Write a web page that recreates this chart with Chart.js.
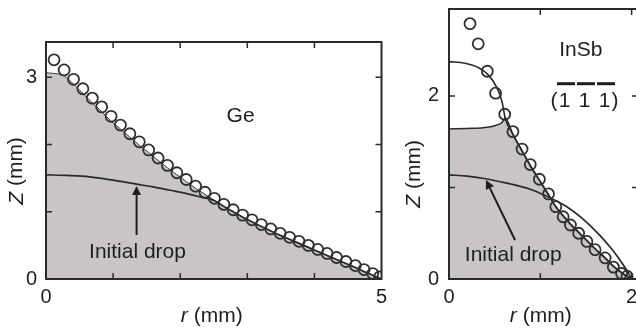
<!DOCTYPE html>
<html><head><meta charset="utf-8">
<script src="https://cdn.jsdelivr.net/npm/chart.js@4.4.0/dist/chart.umd.min.js"></script>
<style>
html,body{margin:0;padding:0;background:#fff;overflow:hidden;width:636px;height:328px;}
#wrap{position:relative;width:636px;height:328px;overflow:hidden;background:#fff;}
canvas{position:absolute;top:0;}
#c1{left:0px;}
#c2{left:390px;}
</style></head><body>
<div id="wrap"><canvas id="c1" width="400" height="328"></canvas><canvas id="c2" width="260" height="328"></canvas></div>
<script>
// ---------- Ge panel data ----------
const geCircleR = [0.12,0.27,0.41,0.55,0.69,0.83,0.97,1.11,1.25,1.39,1.53,1.67,1.81,1.95,2.09,2.23,2.37,2.51,2.65,2.79,2.93,3.07,3.21,3.35,3.49,3.63,3.77,3.91,4.05,4.19,4.33,4.47,4.61,4.74,4.87,4.97];
const geCircleZ = [3.26,3.11,2.97,2.83,2.69,2.56,2.42,2.29,2.16,2.04,1.92,1.80,1.69,1.58,1.48,1.38,1.29,1.20,1.11,1.03,0.95,0.88,0.81,0.745,0.68,0.62,0.56,0.50,0.44,0.38,0.32,0.26,0.20,0.14,0.08,0.03];
const geFinalR = [0,0.27,0.41,0.55,0.69,0.83,0.97,1.11,1.25,1.39,1.53,1.67,1.81,1.95,2.09,2.23,2.37,2.51,2.65,2.79,2.93,3.07,3.21,3.35,3.49,3.63,3.77,3.91,4.05,4.19,4.33,4.47,4.61,4.74,4.87,5.0];
const geFinalZ = [3.07,3.02,2.90,2.76,2.62,2.49,2.35,2.23,2.11,1.99,1.88,1.765,1.655,1.55,1.45,1.35,1.26,1.17,1.08,1.00,0.92,0.85,0.78,0.715,0.65,0.59,0.53,0.47,0.41,0.35,0.29,0.23,0.17,0.11,0.055,0];
const geInitR = [0,0.3,0.65,1.0,1.35,1.6,1.85,2.05,2.3,2.51,2.65,2.79,2.93,3.07,3.21,3.35,3.49,3.63,3.77,3.91,4.05,4.19,4.33,4.47,4.61,4.74,4.87,5.0];
const geInitZ = [1.55,1.54,1.52,1.47,1.41,1.37,1.32,1.28,1.22,1.165,1.08,1.00,0.92,0.85,0.78,0.715,0.65,0.59,0.53,0.47,0.41,0.35,0.29,0.23,0.17,0.11,0.055,0];
const geXTicks = [0,1,2,3,4,5];
const geYTicks = [0,1,2,3];
const geXLabeled = [0,5];
const geYLabeled = [0,3];

// ---------- InSb panel data ----------
const insbCircleR = [0.23,0.32,0.42,0.51,0.61,0.70,0.80,0.89,0.99,1.09,1.17,1.25,1.33,1.42,1.51,1.60,1.71,1.80,1.89,1.95];
const insbCircleZ = [2.79,2.57,2.27,2.03,1.80,1.61,1.42,1.25,1.09,0.93,0.79,0.68,0.59,0.50,0.41,0.32,0.23,0.13,0.06,0.03];
const insbShapeR = [0,0.175,0.32,0.43,0.52,0.58,0.615,0.70,0.80,0.89,0.99,1.09,1.17,1.25,1.33,1.42,1.51,1.60,1.71,1.80,1.89,1.95,2.0];
const insbShapeZ = [2.375,2.357,2.31,2.23,2.10,1.94,1.76,1.58,1.40,1.24,1.08,0.92,0.79,0.69,0.60,0.51,0.42,0.33,0.23,0.14,0.07,0.03,0];
const insbMeltR = [0,0.2,0.35,0.50,0.58,0.615,0.70,0.80,0.89,0.99,1.09,1.17,1.25,1.33,1.42,1.51,1.60,1.71,1.80,1.89,1.95,2.0];
const insbMeltZ = [1.64,1.645,1.65,1.675,1.71,1.76,1.58,1.40,1.24,1.08,0.92,0.79,0.69,0.60,0.51,0.42,0.33,0.23,0.14,0.07,0.03,0];
const insbInitR = [0,0.2,0.4,0.56,0.75,0.92,1.1,1.29,1.45,1.65,1.78,1.87,1.95,2.0];
const insbInitZ = [1.137,1.125,1.095,1.063,1.02,0.97,0.89,0.79,0.67,0.48,0.33,0.21,0.09,0];
const insbXTicks = [0,1,2];
const insbYTicks = [0,1,2];
const insbXLabeled = [0,2];
const insbYLabeled = [0,2];

// ---------- styling ----------
const FONT = '"Liberation Sans", Arial, Helvetica, sans-serif';
const INK = '#1e1e1e';
const LINE = '#2a2a2a';
const FILL = '#c9c5c7';
const TXT = 21;
Chart.defaults.font.family = FONT;

function pts(rs, zs){ return rs.map((r,i)=>({x:r, y:zs[i]})); }

function drawMixed(ctx, parts, cx, cy, rot){
  let total = 0;
  const w = parts.map(p=>{ ctx.font = (p[1]?p[1]+' ':'')+TXT+'px '+FONT; const m = ctx.measureText(p[0]).width; total += m; return m; });
  ctx.save();
  ctx.translate(cx, cy); ctx.rotate(rot);
  ctx.textAlign = 'left'; ctx.textBaseline = 'middle'; ctx.fillStyle = INK;
  let x = -total/2;
  parts.forEach((p,i)=>{ ctx.font = (p[1]?p[1]+' ':'')+TXT+'px '+FONT; ctx.fillText(p[0], x, 0); x += w[i]; });
  ctx.restore();
}

function decor(d){
  return {
    id: 'decor',
    afterDraw(chart){
      const ctx = chart.ctx, a = chart.chartArea, xs = chart.scales.x, ys = chart.scales.y;
      const X = v=>xs.getPixelForValue(v), Y = v=>ys.getPixelForValue(v);
      ctx.save();
      ctx.strokeStyle = LINE; ctx.lineWidth = 1.5;
      ctx.beginPath();
      d.xTicks.forEach(v=>{ if (v<=xs.min||v>=xs.max) return; const p=X(v); ctx.moveTo(p,a.bottom); ctx.lineTo(p,a.bottom-6); ctx.moveTo(p,a.top); ctx.lineTo(p,a.top+6); });
      d.yTicks.forEach(v=>{ if (v<=ys.min||v>=ys.max) return; const p=Y(v); ctx.moveTo(a.left,p); ctx.lineTo(a.left+6,p); ctx.moveTo(a.right,p); ctx.lineTo(a.right-6,p); });
      ctx.stroke();
      ctx.lineWidth = 2;
      ctx.strokeRect(a.left, a.top, a.right-a.left, a.bottom-a.top);
      // arrow
      const tx=X(d.arrow.from[0]), ty=Y(d.arrow.from[1]), hx=X(d.arrow.to[0]), hy=Y(d.arrow.to[1]);
      const ang=Math.atan2(hy-ty,hx-tx), L=9, W=4.5;
      const bx=hx-L*Math.cos(ang), by=hy-L*Math.sin(ang);
      ctx.lineWidth=2; ctx.strokeStyle=INK;
      ctx.beginPath(); ctx.moveTo(tx,ty); ctx.lineTo(bx,by); ctx.stroke();
      ctx.fillStyle=INK; ctx.beginPath(); ctx.moveTo(hx,hy);
      ctx.lineTo(bx+W*Math.sin(ang), by-W*Math.cos(ang));
      ctx.lineTo(bx-W*Math.sin(ang), by+W*Math.cos(ang)); ctx.closePath(); ctx.fill();
      // text labels
      ctx.font = TXT+'px '+FONT; ctx.textAlign='center'; ctx.textBaseline='middle'; ctx.fillStyle=INK;
      d.labels.forEach(l=>ctx.fillText(l.text, X(l.at[0]), Y(l.at[1])));
      if (d.plane){
        const cx = X(d.plane.at[0]), cy = Y(d.plane.at[1]);
        const chars = [['(',-30.5],['1',-20],['1',0],['1',20],[')',30.5]];
        chars.forEach(c=>ctx.fillText(c[0], cx+c[1], cy));
        [-20,0,20].forEach(o=>ctx.fillRect(cx+o+1.5-9, cy-18.5, 18, 3));
      }
      // axis titles
      drawMixed(ctx, [['r','italic'],[' (mm)','']], X(d.xTitleAt), a.bottom+d.xTitleDy, 0);
      drawMixed(ctx, [['Z','italic'],[' (mm)','']], a.left-d.yTitleDx, Y(d.yTitleAt), -Math.PI/2);
      ctx.restore();
    }
  };
}

function noPad(ax){ ax.paddingTop = 0; ax.paddingBottom = 0; ax.paddingLeft = 0; ax.paddingRight = 0; }

function makeChart(id, o){
  const datasets = [
    {label:'measured', data: pts(o.cR,o.cZ), showLine:false, pointRadius:5.5, pointBorderWidth:1.8,
     pointBorderColor:'#303030', pointBackgroundColor:'rgba(0,0,0,0)', order:0},
    {label:'initial', data: pts(o.iR,o.iZ), borderColor:LINE, borderWidth:1.7, pointRadius:0, fill:false,
     cubicInterpolationMode:'monotone', order:1}
  ];
  if (o.sR) datasets.push({label:'shape', data: pts(o.sR,o.sZ), borderColor:LINE, borderWidth:1.6, pointRadius:0, fill:false,
     cubicInterpolationMode:'monotone', order:2});
  datasets.push({label:'final', data: pts(o.fR,o.fZ), borderColor:o.fillBorder, borderWidth:o.fillBorderW, backgroundColor:FILL,
     fill:'origin', pointRadius:0, cubicInterpolationMode:'monotone', order:3});
  return new Chart(document.getElementById(id), {
    type:'line',
    data:{datasets},
    options:{
      responsive:false, animation:false, events:[],
      layout:{padding:o.pad},
      plugins:{legend:{display:false}, tooltip:{enabled:false}},
      scales:{
        x:{type:'linear', min:0, max:o.xMax,
           afterBuildTicks: ax=>{ ax.ticks = o.xTicks.map(v=>({value:v})); },
           ticks:{callback:v=>o.xLab.includes(v)?String(v):'', font:{size:20, family:FONT}, color:INK, padding:6, maxRotation:0, autoSkip:false},
           grid:{display:false, drawTicks:false}, border:{display:false},
           afterFit: ax=>{ ax.height = 49; noPad(ax); }},
        y:{type:'linear', min:0, max:o.yMax,
           afterBuildTicks: ax=>{ ax.ticks = o.yTicks.map(v=>({value:v})); },
           ticks:{callback:v=>o.yLab.includes(v)?String(v):'', font:{size:20, family:FONT}, color:INK, padding:o.yPad, autoSkip:false},
           grid:{display:false, drawTicks:false}, border:{display:false},
           afterFit: ax=>{ ax.width = o.yW; noPad(ax); }}
      }
    },
    plugins:[decor(o.decor)]
  });
}

makeChart('c1', {
  cR:geCircleR, cZ:geCircleZ, iR:geInitR, iZ:geInitZ, fR:geFinalR, fZ:geFinalZ,
  fillBorder:'#3a3a3a', fillBorderW:1.0,
  xMax:5, yMax:3.525, xTicks:geXTicks, yTicks:geYTicks, xLab:geXLabeled, yLab:geYLabeled,
  pad:{left:0, top:42, right:18.5, bottom:0}, yW:46, yPad:9,
  decor:{xTicks:geXTicks, yTicks:geYTicks,
    arrow:{from:[1.35,0.654], to:[1.35,1.383]},
    labels:[{text:'Ge', at:[2.90,2.42]}, {text:'Initial drop', at:[1.364,0.394]}],
    xTitleAt:2.47, xTitleDy:37.5, yTitleDx:29.3, yTitleAt:1.607}
});

makeChart('c2', {
  cR:insbCircleR, cZ:insbCircleZ, iR:insbInitR, iZ:insbInitZ, sR:insbShapeR, sZ:insbShapeZ, fR:insbMeltR, fZ:insbMeltZ,
  fillBorder:LINE, fillBorderW:1.5,
  xMax:2.07, yMax:2.95, xTicks:insbXTicks, yTicks:insbYTicks, xLab:insbXLabeled, yLab:insbYLabeled,
  pad:{left:0, top:9, right:12, bottom:0}, yW:59, yPad:10,
  decor:{xTicks:insbXTicks, yTicks:insbYTicks,
    arrow:{from:[0.723,0.426], to:[0.405,1.082]},
    labels:[{text:'InSb', at:[1.443,2.50]}, {text:'Initial drop', at:[0.704,0.257]}],
    plane:{at:[1.484,1.948]},
    xTitleAt:1.005, xTitleDy:37.5, yTitleDx:35, yTitleAt:1.148}
});
</script>
</body></html>
